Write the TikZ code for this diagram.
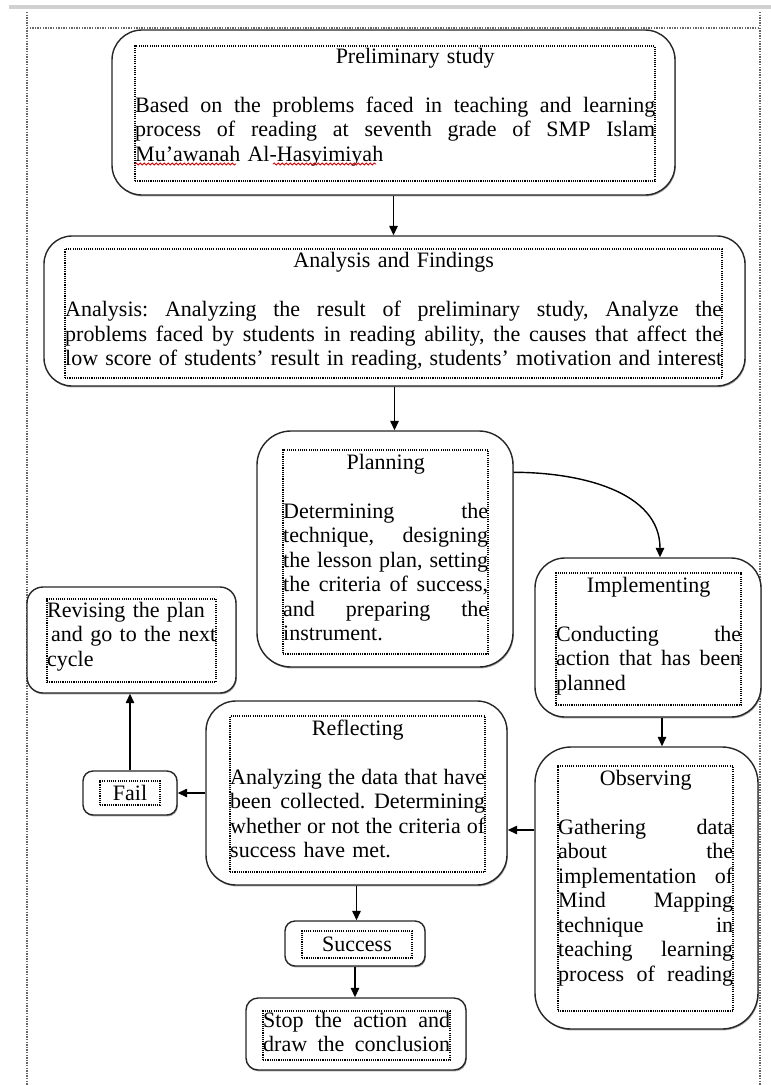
\documentclass[tikz,border=0pt]{standalone}
\usepackage{fontspec}
\setmainfont{Liberation Serif}
\usetikzlibrary{fit,arrows.meta,shadows,decorations.pathmorphing}
\newcommand{\jl}[1]{\makebox[\linewidth][s]{\spaceskip=0pt\xspaceskip=0pt #1}\\}
\newcommand{\jlast}[1]{\makebox[\linewidth][s]{\spaceskip=0pt\xspaceskip=0pt #1}}
\newcommand{\ttl}[1]{\makebox[\linewidth][c]{#1}\\\mbox{}\\}
\tikzset{
  outerbox/.style={draw=black!85, line width=1.4pt, rounded corners=#1, inner sep=0pt, fill=white,
    drop shadow={shadow xshift=0.8pt, shadow yshift=-1.4pt, fill=black!50, opacity=0.7}},
  dotbox/.style={draw=black, line width=1.1pt, dash pattern=on 1.1pt off 1.1pt, inner sep=0pt},
  txt/.style={inner sep=0pt, anchor=north west, font=\fontsize{22}{24.5}\selectfont\frenchspacing},
  lbl/.style={inner sep=0pt, font=\fontsize{22}{24.5}\selectfont},
  arr/.style={line width=1.4pt, draw=black, -{Triangle[length=9.5pt,width=8.5pt]}},
  pageline/.style={draw=black!60, line width=1.3pt, dash pattern=on 1.3pt off 1.3pt},
  squig/.style={draw=red!85!black, line width=0.8pt, decorate, decoration={snake, segment length=4pt, amplitude=1.1pt}}
}
\begin{document}
\begin{tikzpicture}[x=1pt,y=-1pt]
\useasboundingbox (0,0) rectangle (771,1085);
\fill[fill=black!18] (9,5) rectangle (771,9);
\draw[pageline] (27,12) -- (27,1085);
\draw[pageline] (27,28) -- (760,28);
\draw[pageline] (760,12) -- (760,1085);

% Preliminary study
\node[outerbox=30pt, fit={(112,30)(675,195)}] (pre) {};
\node[dotbox, fit={(135,46)(655,181)}] (prein) {};
\node[txt, text width=520pt] (pretx) at (135,48)
 {\ttl{\hspace*{40pt}Preliminary study}\jl{Based on the problems faced in teaching and learning}\jl{process of reading at seventh grade of SMP Islam}Mu’awanah Al-Hasyimiyah};
\draw[squig] (135,164) -- (236,164);
\draw[squig] (273,164) -- (376,164);

% Analysis and Findings
\node[outerbox=28pt, fit={(44,236)(745,386)}] (ana) {};
\node[dotbox, fit={(65,249)(722,378)}] (anain) {};
\node[txt, text width=657pt] (anatx) at (65,252.5)
 {\ttl{Analysis and Findings}\jl{Analysis: Analyzing the result of preliminary study, Analyze the}\jl{problems faced by students in reading ability, the causes that affect the}\jlast{low score of students’ result in reading, students’ motivation and interest}};

% Planning
\node[outerbox=34pt, fit={(257,431)(513,667)}] (pla) {};
\node[dotbox, fit={(283,450)(488,654)}] (plain) {};
\node[txt, text width=205pt] (platx) at (283,454)
 {\ttl{Planning}\jl{Determining the}\jl{technique, designing}\jl{the lesson plan, setting}\jl{the criteria of success,}\jl{and preparing the}instrument.};

% Implementing
\node[outerbox=30pt, fit={(535,558)(761,717)}] (imp) {};
\node[dotbox, fit={(556,573)(741,705)}] (impin) {};
\node[txt, text width=185pt] (imptx) at (556,577)
 {\ttl{Implementing}\jl{Conducting the}\jl{action that has been}planned};

% Observing
\node[outerbox=36pt, fit={(535,747)(758,1029)}] (obs) {};
\node[dotbox, fit={(558,766)(733,1011)}] (obsin) {};
\node[txt, text width=175pt] (obstx) at (558,770)
 {\ttl{Observing}\jl{Gathering data}\jl{about the}\jl{implementation of}\jl{Mind Mapping}\jl{technique in}\jl{teaching learning}\jlast{process of reading}};

% Reflecting
\node[outerbox=30pt, fit={(206,701)(507,885)}] (ref) {};
\node[dotbox, fit={(230,716)(485,872)}] (refin) {};
\node[txt, text width=255pt] (reftx) at (230,719.5)
 {\ttl{Reflecting}\jl{Analyzing the data that have}\jl{been collected. Determining}\jl{whether or not the criteria of}success have met.};

% Revising
\node[outerbox=16pt, fit={(27,587)(236,693)}] (rev) {};
\node[dotbox, fit={(47,599)(216,682)}] (revin) {};
\node[txt, text width=169pt] (revtx) at (47,602)
 {Revising the plan\\\jl{\hspace{4pt}and go to the next}cycle};

% Fail
\node[outerbox=10pt, fit={(83,771)(177,815)}] (fail) {};
\node[dotbox, fit={(100,781)(160,805)}] (failin) {};
\node[lbl] (failtx) at (failin.center) {Fail};

% Success
\node[outerbox=10pt, fit={(285,921)(425,966)}] (suc) {};
\node[dotbox, fit={(302,931)(412,958)}] (sucin) {};
\node[lbl] (suctx) at (sucin.center) {Success};

% Stop
\node[outerbox=12pt, fit={(246,998)(466,1070)}] (stop) {};
\node[dotbox, fit={(263,1011)(450,1060)}] (stopin) {};
\node[txt, text width=187pt] (stoptx) at (263,1012)
 {\jl{Stop the action and}\jlast{draw the conclusion}};

% Connectors
\draw[arr] (pre.south) -- (pre.south |- ana.north);
\draw[arr] (ana.south) -- (ana.south |- pla.north);
\draw[arr] ([yshift=-42pt]pla.north east) to[out=0,in=90] ([xshift=12pt]imp.north);
\draw[arr] ([xshift=14pt]imp.south) -- ([xshift=14pt]imp.south |- obs.north);
\coordinate (o1) at ([yshift=58pt]obs.west);
\draw[arr] (o1) -- (o1 -| ref.east);
\draw[arr] (ref.west |- fail.east) -- (fail.east);
\draw[arr] (fail.north) -- (fail.north |- rev.south);
\draw[arr] (ref.south) -- (ref.south |- suc.north);
\draw[arr] (suc.south) -- (suc.south |- stop.north);
\end{tikzpicture}
\end{document}
